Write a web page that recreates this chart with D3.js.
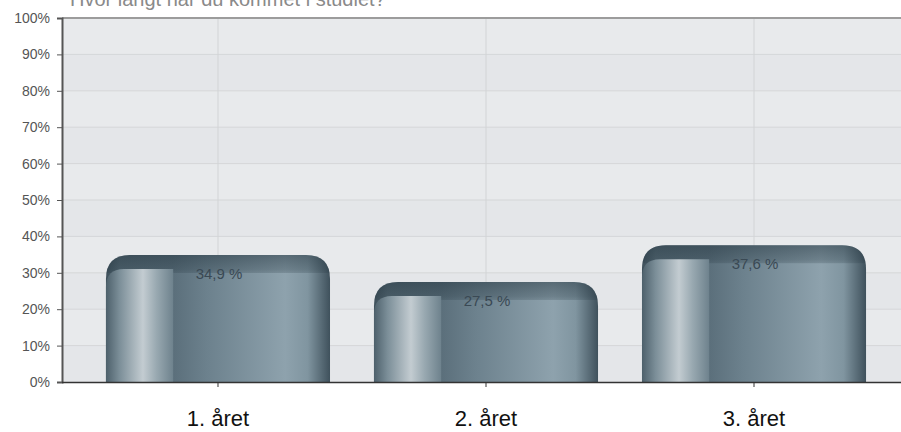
<!DOCTYPE html>
<html lang="da">
  <head>
    <meta charset="UTF-8" />
    <title>Året</title>
    <script src="https://d3js.org/d3.v7.min.js"></script>
    <style>
      body { margin: 0; background: #fff; overflow: hidden; }
      svg { display: block; font-family: "Liberation Sans", Arial, sans-serif; }
    </style>
  </head>
  <body>
    <svg width="901" height="432"></svg>
    <script>
      // data
      const categories = ["1. året", "2. året", "3. året"];
      const values = [34.9, 27.5, 37.6];
      const valueLabels = ["34,9 %", "27,5 %", "37,6 %"];
      const yTicks = [0, 10, 20, 30, 40, 50, 60, 70, 80, 90, 100];

      const svg = d3.select("svg");
      const plotLeft = 62, plotRight = 901, plotTop = 18, plotBottom = 382;

      // chart continues past the right edge of the picture
      const x = d3.scaleBand().domain(categories).range([62, 910]).padding(0.164);
      const y = d3.scaleLinear().domain([0, 100]).range([plotBottom, plotTop]);

      // title, cut off at the top as in the source
      svg.append("text")
        .attr("x", 70).attr("y", 6)
        .attr("font-size", 20).attr("fill", "#8a8a8a")
        .text("Hvor langt har du kommet i studiet?");

      const defs = svg.append("defs");
      const grad = (id, stops, vertical) => {
        const g = defs.append("linearGradient").attr("id", id)
          .attr("x1", 0).attr("y1", 0)
          .attr("x2", vertical ? 0 : 1).attr("y2", vertical ? 1 : 0);
        stops.forEach(s => g.append("stop").attr("offset", s[0])
          .attr("stop-color", s[1]).attr("stop-opacity", s[2] == null ? 1 : s[2]));
      };
      grad("barMain", [[0, "#3e505b"], [0.06, "#566a75"], [0.3, "#5b6f7b"], [0.45, "#6c818d"],
        [0.8, "#8ea2ad"], [0.9, "#8095a0"], [1, "#3f515c"]]);
      grad("barTop", [[0, "#22333d", 0.5], [0.6, "#22333d", 0.3], [1, "#22333d", 0]], true);
      grad("barHi", [[0, "#4d606b"], [0.2, "#7b8e98"], [0.55, "#c3ccd1"], [0.75, "#99a9b1"], [1, "#6e828d"]]);

      // plot background bands
      const g = svg.append("g");
      yTicks.slice(0, -1).forEach((t, i) => {
        g.append("rect")
          .attr("x", plotLeft).attr("y", y(t + 10))
          .attr("width", plotRight - plotLeft).attr("height", y(t) - y(t + 10))
          .attr("fill", i % 2 ? "#e8eaec" : "#e4e6e9");
      });

      // grid
      g.selectAll(".hg").data(yTicks.slice(1, -1)).join("line")
        .attr("x1", plotLeft).attr("x2", plotRight)
        .attr("y1", d => y(d)).attr("y2", d => y(d))
        .attr("stroke", "#d4d6d8");
      g.selectAll(".vg").data(categories).join("line")
        .attr("x1", d => x(d) + x.bandwidth() / 2).attr("x2", d => x(d) + x.bandwidth() / 2)
        .attr("y1", plotTop).attr("y2", plotBottom)
        .attr("stroke", "#d2d4d6");
      g.append("line").attr("x1", plotLeft).attr("x2", plotRight)
        .attr("y1", plotTop).attr("y2", plotTop).attr("stroke", "#9c9c9c").attr("stroke-width", 2);

      // rounded top bar path
      function topRounded(x0, y0, w, h, r) {
        return `M${x0},${y0 + h}V${y0 + r}Q${x0},${y0} ${x0 + r},${y0}` +
          `H${x0 + w - r}Q${x0 + w},${y0} ${x0 + w},${y0 + r}V${y0 + h}Z`;
      }
      function leftRounded(x0, y0, w, h, r) {
        return `M${x0},${y0 + h}V${y0 + r}Q${x0},${y0} ${x0 + r},${y0}` +
          `H${x0 + w}V${y0 + h}Z`;
      }

      const bars = svg.append("g").selectAll("g").data(values).join("g");
      bars.append("path")
        .attr("d", (d, i) => topRounded(x(categories[i]), y(d), x.bandwidth(), plotBottom - y(d), 24))
        .attr("fill", "url(#barMain)");
      bars.append("path")
        .attr("d", (d, i) => topRounded(x(categories[i]), y(d), x.bandwidth(), 18, 24))
        .attr("fill", "url(#barTop)");
      bars.append("path")
        .attr("d", (d, i) => leftRounded(x(categories[i]), y(d) + 14, x.bandwidth() * 0.3, plotBottom - y(d) - 14, 18))
        .attr("fill", "url(#barHi)");

      bars.append("text")
        .attr("x", (d, i) => x(categories[i]) + x.bandwidth() / 2 + 1)
        .attr("y", d => y(d) + 24)
        .attr("text-anchor", "middle")
        .attr("font-size", 15).attr("fill", "#3a4954")
        .text((d, i) => valueLabels[i]);

      // axes
      const yAxis = svg.append("g").attr("transform", `translate(${plotLeft},0)`)
        .call(d3.axisLeft(y).tickValues(yTicks).tickFormat(d => d + "%").tickSize(5).tickPadding(7));
      yAxis.select(".domain").attr("stroke", "#555").attr("stroke-width", 2);
      yAxis.selectAll(".tick line").attr("stroke", "#555");
      yAxis.selectAll("text").attr("font-size", 14).attr("fill", "#555").attr("font-family", "Liberation Sans, Arial, sans-serif");

      const xAxis = svg.append("g").attr("transform", `translate(0,${plotBottom})`)
        .call(d3.axisBottom(x).tickSize(5).tickPadding(23).tickSizeOuter(0));
      xAxis.select(".domain").attr("d", `M${plotLeft},0.5H${plotRight}`).attr("stroke", "#333").attr("stroke-width", 1.5);
      xAxis.selectAll(".tick line").attr("stroke", "#333");
      xAxis.selectAll("text").attr("font-size", 22).attr("fill", "#111").attr("font-family", "Liberation Sans, Arial, sans-serif");
    </script>
  </body>
</html>
